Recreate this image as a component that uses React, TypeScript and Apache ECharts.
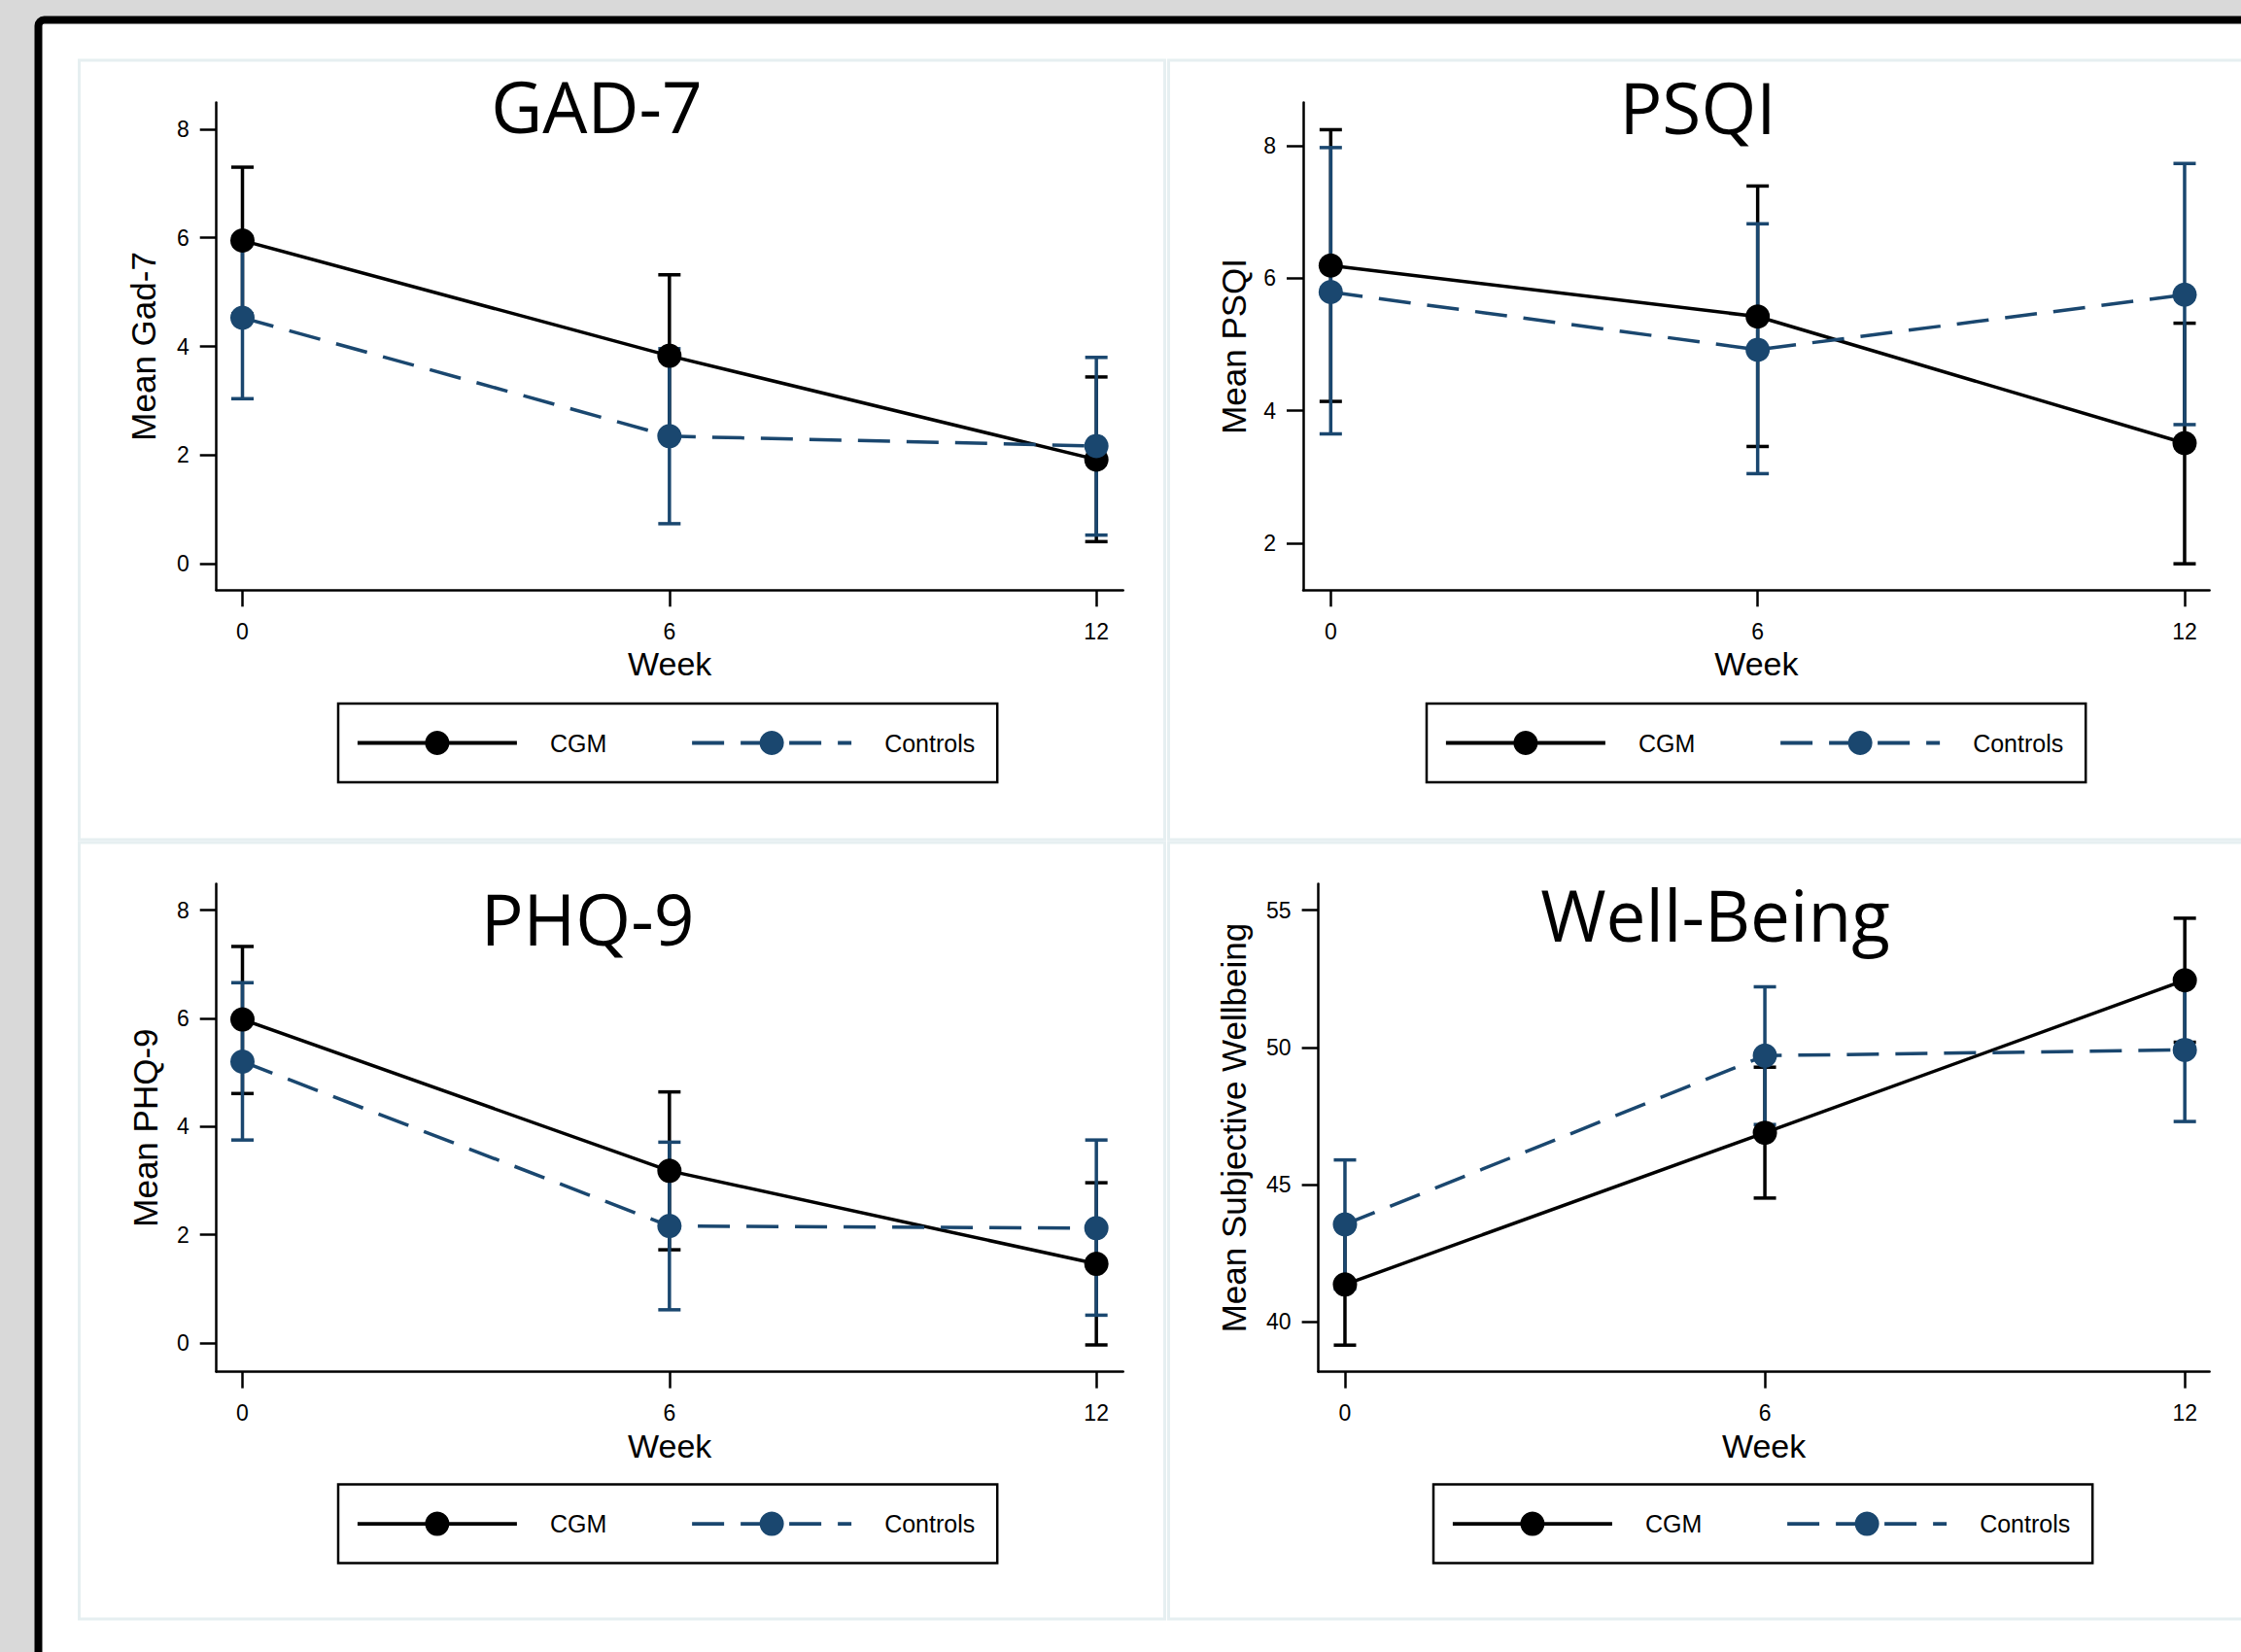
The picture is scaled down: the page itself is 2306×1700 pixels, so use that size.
import React, { useEffect, useRef } from "react";
import * as echarts from "echarts";

// ---- data ----
const weeks = [0, 6, 12];
const xTicks = [0, 6, 12];

const gadCgm = [5.95, 3.83, 1.92];
const gadCgmLo = [4.6, 2.34, 0.41];
const gadCgmHi = [7.3, 5.32, 3.44];
const gadCtl = [4.53, 2.35, 2.17];
const gadCtlLo = [3.04, 0.74, 0.53];
const gadCtlHi = [6.02, 3.96, 3.8];
const gadTicks = [0, 2, 4, 6, 8];

const psqiCgm = [6.19, 5.42, 3.51];
const psqiCgmLo = [4.14, 3.46, 1.69];
const psqiCgmHi = [8.24, 7.39, 5.32];
const psqiCtl = [5.79, 4.92, 5.75];
const psqiCtlLo = [3.65, 3.05, 3.79];
const psqiCtlHi = [7.97, 6.82, 7.73];
const psqiTicks = [2, 4, 6, 8];

const phqCgm = [5.98, 3.18, 1.46];
const phqCgmLo = [4.61, 1.72, -0.04];
const phqCgmHi = [7.33, 4.64, 2.96];
const phqCtl = [5.2, 2.16, 2.12];
const phqCtlLo = [3.75, 0.61, 0.51];
const phqCtlHi = [6.66, 3.71, 3.75];
const phqTicks = [0, 2, 4, 6, 8];

const wbCgm = [41.36, 46.89, 52.45];
const wbCgmLo = [39.15, 44.51, 50.19];
const wbCgmHi = [43.57, 49.28, 54.71];
const wbCtl = [43.55, 49.7, 49.91];
const wbCtlLo = [41.2, 47.19, 47.3];
const wbCtlHi = [45.9, 52.21, 52.52];
const wbTicks = [40, 45, 50, 55];

const seriesNames = ["CGM", "Controls"];
const xTitle = "Week";

const BLUE = "#1a476f";
const BLACK = "#000000";
const AXIS_FONT = "'Liberation Sans', Arial, sans-serif";
const TITLE_FONT = "'Open Sans', 'Noto Sans', sans-serif";
const DASH = [33, 17];

type Panel = {
  title: string;
  yName: string;
  cgm: number[];
  cgmLo: number[];
  cgmHi: number[];
  ctl: number[];
  ctlLo: number[];
  ctlHi: number[];
  yTicks: number[];
  grid: { left: number; top: number; width: number; height: number };
  xMin: number;
  xMax: number;
  yMin: number;
  yMax: number;
  yGap: number;
  legend: { left: number; top: number };
  titlePos: [number, number];
};

const panels: Panel[] = [
  {
    title: "GAD-7",
    yName: "Mean Gad-7",
    cgm: gadCgm, cgmLo: gadCgmLo, cgmHi: gadCgmHi,
    ctl: gadCtl, ctlLo: gadCtlLo, ctlHi: gadCtlHi,
    yTicks: gadTicks,
    grid: { left: 222.7, top: 105.5, width: 933, height: 501.8 },
    xMin: -0.366, xMax: 12.376, yMin: -0.483, yMax: 8.49,
    yGap: 57.6,
    legend: { left: 348, top: 724 },
    titlePos: [614, 108],
  },
  {
    title: "PSQI",
    yName: "Mean PSQI",
    cgm: psqiCgm, cgmLo: psqiCgmLo, cgmHi: psqiCgmHi,
    ctl: psqiCtl, ctlLo: psqiCtlLo, ctlHi: psqiCtlHi,
    yTicks: psqiTicks,
    grid: { left: 1341, top: 105.5, width: 932.6, height: 501.8 },
    xMin: -0.387, xMax: 12.35, yMin: 1.292, yMax: 8.65,
    yGap: 54.5,
    legend: { left: 1468, top: 724 },
    titlePos: [1747, 109],
  },
  {
    title: "PHQ-9",
    yName: "Mean PHQ-9",
    cgm: phqCgm, cgmLo: phqCgmLo, cgmHi: phqCgmHi,
    ctl: phqCtl, ctlLo: phqCtlLo, ctlHi: phqCtlHi,
    yTicks: phqTicks,
    grid: { left: 222.7, top: 909.6, width: 933, height: 502 },
    xMin: -0.366, xMax: 12.376, yMin: -0.536, yMax: 8.487,
    yGap: 55.8,
    legend: { left: 348, top: 1527.6 },
    titlePos: [604.5, 944],
  },
  {
    title: "Well-Being",
    yName: "Mean Subjective Wellbeing",
    cgm: wbCgm, cgmLo: wbCgmLo, cgmHi: wbCgmHi,
    ctl: wbCtl, ctlLo: wbCtlLo, ctlHi: wbCtlHi,
    yTicks: wbTicks,
    grid: { left: 1356.6, top: 909.6, width: 917, height: 502 },
    xMin: -0.38, xMax: 12.353, yMin: 38.18, yMax: 55.96,
    yGap: 70,
    legend: { left: 1475, top: 1527.6 },
    titlePos: [1765, 940],
  },
];

const renderCI = (params: any, api: any) => {
  const x = api.value(0);
  const lo = api.value(1);
  const hi = api.value(2);
  const p1 = api.coord([x, lo]);
  const p2 = api.coord([x, hi]);
  const hw = 11.5;
  const style = { stroke: api.visual("color"), lineWidth: 3.5, fill: "none" };
  return {
    type: "group",
    children: [
      { type: "line", shape: { x1: p1[0], y1: p1[1], x2: p2[0], y2: p2[1] }, style },
      { type: "line", shape: { x1: p1[0] - hw, y1: p1[1], x2: p1[0] + hw, y2: p1[1] }, style },
      { type: "line", shape: { x1: p2[0] - hw, y1: p2[1], x2: p2[0] + hw, y2: p2[1] }, style },
    ],
  };
};

function buildOption() {
  const grid: any[] = [];
  const xAxis: any[] = [];
  const yAxis: any[] = [];
  const series: any[] = [];
  const legend: any[] = [];
  const graphic: any[] = [];

  graphic.push({
    type: "rect", z: -10, silent: true,
    shape: { x: 0, y: 0, width: 2306, height: 1700 },
    style: { fill: "#d9d9d9" },
  });
  graphic.push({
    type: "rect", z: -9, silent: true,
    shape: { x: 39.5, y: 20.5, width: 2400, height: 1800, r: 6 },
    style: { fill: "#ffffff", stroke: "#000000", lineWidth: 8 },
  });
  const panelRects = [
    [81.5, 62, 1117, 802],
    [1202.5, 62, 1200, 802],
    [81.5, 867, 1117, 799],
    [1202.5, 867, 1200, 799],
  ];
  panelRects.forEach((r) => {
    graphic.push({
      type: "rect", z: -8, silent: true,
      shape: { x: r[0], y: r[1], width: r[2], height: r[3] },
      style: { fill: "none", stroke: "#e6eff1", lineWidth: 3 },
    });
  });

  panels.forEach((p, i) => {
    grid.push({ ...p.grid, containLabel: false });
    xAxis.push({
      type: "value",
      gridIndex: i,
      min: p.xMin,
      max: p.xMax,
      name: xTitle,
      nameLocation: "middle",
      nameGap: 59,
      nameTextStyle: { fontSize: 34, color: BLACK, fontFamily: AXIS_FONT },
      axisLine: { show: true, onZero: false, lineStyle: { color: BLACK, width: 2.5 } },
      axisTick: { show: true, inside: false, length: 17, customValues: xTicks, lineStyle: { color: BLACK, width: 2.5 } },
      axisLabel: { show: true, margin: 31, customValues: xTicks, fontSize: 23, color: BLACK, fontFamily: AXIS_FONT },
      splitLine: { show: false },
    });
    yAxis.push({
      type: "value",
      gridIndex: i,
      min: p.yMin,
      max: p.yMax,
      name: p.yName,
      nameLocation: "middle",
      nameGap: p.yGap,
      nameTextStyle: { fontSize: 35, color: BLACK, fontFamily: AXIS_FONT },
      axisLine: { show: true, onZero: false, lineStyle: { color: BLACK, width: 2.5 } },
      axisTick: { show: true, inside: false, length: 17, customValues: p.yTicks, lineStyle: { color: BLACK, width: 2.5 } },
      axisLabel: { show: true, margin: 28, customValues: p.yTicks, fontSize: 23, color: BLACK, fontFamily: AXIS_FONT },
      splitLine: { show: false },
    });

    series.push({
      type: "custom",
      name: "CGM CI",
      xAxisIndex: i,
      yAxisIndex: i,
      renderItem: renderCI,
      itemStyle: { color: BLACK },
      encode: { x: 0, y: [1, 2] },
      clip: false,
      z: 2,
      data: weeks.map((w, k) => [w, p.cgmLo[k], p.cgmHi[k]]),
    });
    series.push({
      type: "custom",
      name: "Controls CI",
      xAxisIndex: i,
      yAxisIndex: i,
      renderItem: renderCI,
      itemStyle: { color: BLUE },
      encode: { x: 0, y: [1, 2] },
      clip: false,
      z: 2,
      data: weeks.map((w, k) => [w, p.ctlLo[k], p.ctlHi[k]]),
    });
    series.push({
      type: "line",
      name: seriesNames[0],
      xAxisIndex: i,
      yAxisIndex: i,
      symbol: "circle",
      symbolSize: 25,
      showAllSymbol: true,
      itemStyle: { color: BLACK },
      lineStyle: { color: BLACK, width: 3.5, type: "solid" },
      z: 3,
      data: weeks.map((w, k) => [w, p.cgm[k]]),
    });
    series.push({
      type: "line",
      name: seriesNames[1],
      xAxisIndex: i,
      yAxisIndex: i,
      symbol: "circle",
      symbolSize: 25,
      showAllSymbol: true,
      itemStyle: { color: BLUE },
      lineStyle: { color: BLUE, width: 3.5, type: DASH },
      z: 3,
      data: weeks.map((w, k) => [w, p.ctl[k]]),
    });

    legend.push({
      show: true,
      orient: "horizontal",
      left: p.legend.left,
      top: p.legend.top,
      data: [
        { name: seriesNames[0], lineStyle: { color: BLACK, width: 3.8, type: "solid" } },
        { name: seriesNames[1], lineStyle: { color: BLUE, width: 3.8, type: DASH } },
      ],
      itemWidth: 164,
      itemHeight: 31.25,
      itemGap: 86,
      padding: [28, 23, 28, 18],
      borderColor: BLACK,
      borderWidth: 2.5,
      borderRadius: 0,
      backgroundColor: "#ffffff",
      selectedMode: false,
      textStyle: { fontSize: 25, color: BLACK, fontFamily: AXIS_FONT, padding: [0, 0, 0, 29] },
    });

    graphic.push({
      type: "text",
      z: 10,
      x: p.titlePos[0],
      y: p.titlePos[1],
      style: {
        text: p.title,
        fontSize: 73,
        fontFamily: TITLE_FONT,
        fill: BLACK,
        textAlign: "center",
        textVerticalAlign: "middle",
      },
    });
  });

  return {
    animation: false,
    backgroundColor: "#d9d9d9",
    grid,
    xAxis,
    yAxis,
    series,
    legend,
    graphic,
    tooltip: { show: false },
  };
}

export default function App() {
  const ref = useRef<HTMLDivElement>(null);
  useEffect(() => {
    document.body.style.margin = "0";
    document.body.style.overflow = "hidden";
    if (!ref.current) return;
    const chart = echarts.init(ref.current, undefined, { renderer: "svg" });
    chart.setOption(buildOption() as any);
    return () => {
      chart.dispose();
    };
  }, []);
  return <div ref={ref} style={{ width: 2306, height: 1700 }} />;
}
